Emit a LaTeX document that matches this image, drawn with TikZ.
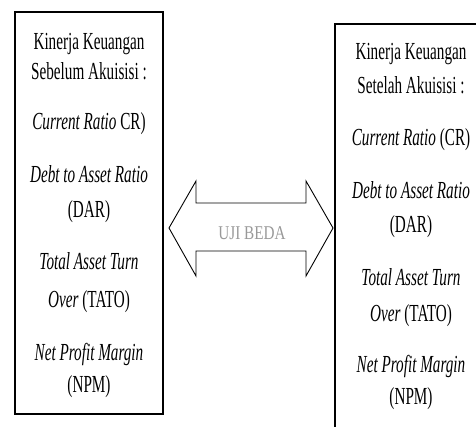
\documentclass[tikz,border=0pt]{standalone}
\usepackage{fontspec}
\setmainfont{Liberation Serif}[FakeStretch=0.62]
\newfontfamily\ujifont{Liberation Serif}[FakeStretch=0.78]

\begin{document}
\begin{tikzpicture}[x=1pt, y=-1pt,
        txt/.style={anchor=base, inner sep=0pt, font=\fontsize{24.5}{30}\selectfont},
        kotak/.style={draw, line width=1.3pt},
        panah/.style={draw, line width=0.9pt, line join=miter}]
    \useasboundingbox (0, 0) rectangle (476, 427);
    \clip (0, 0) rectangle (476, 427);
    % kotak sebelum dan sesudah
    \draw[kotak] (15, 12) rectangle (163, 414);
    \draw[kotak] (335, 24) rectangle (490, 440);
    % sebelum akuisisi
    \node[txt] (ka1) at (89, 50) {Kinerja Keuangan};
    \node[txt] (ka2) at (89, 80) {Sebelum Akuisisi :};
    \node[txt] (acr) at (89, 130) {\textit{Current Ratio} CR)};
    \node[txt] (adar1) at (89, 183) {\textit{Debt to Asset Ratio}};
    \node[txt] (adar2) at (89, 218) {(DAR)};
    \node[txt] (atato1) at (89, 270) {\textit{Total Asset Turn}};
    \node[txt] (atato2) at (89, 307) {\textit{Over} (TATO)};
    \node[txt] (anpm1) at (89, 360) {\textit{Net Profit Margin}};
    \node[txt] (anpm2) at (89, 392) {(NPM)};
    % setelah akuisisi
    \node[txt] (kb1) at (411, 60) {Kinerja Keuangan};
    \node[txt] (kb2) at (411, 94) {Setelah Akuisisi :};
    \node[txt] (bcr) at (411, 146) {\textit{Current Ratio} (CR)};
    \node[txt] (bdar1) at (411, 199) {\textit{Debt to Asset Ratio}};
    \node[txt] (bdar2) at (411, 233) {(DAR)};
    \node[txt] (btato1) at (411, 286) {\textit{Total Asset Turn}};
    \node[txt] (btato2) at (411, 321) {\textit{Over} (TATO)};
    \node[txt] (bnpm1) at (411, 372) {\textit{Net Profit Margin}};
    \node[txt] (bnpm2) at (411, 404) {(NPM)};
    % panah uji beda
    \draw[panah]
    (169, 228) -- (196, 181) -- (196, 203) -- (306, 203) -- (306, 181)
    -- (333, 228) -- (306, 276) -- (306, 251) -- (196, 251) -- (196, 276) -- cycle;
    \node[inner sep=0pt, anchor=base, text=black!40, font=\ujifont\fontsize{19.5}{22}\selectfont]
        (uji) at (252, 240) {UJI BEDA};
\end{tikzpicture}
\end{document}
